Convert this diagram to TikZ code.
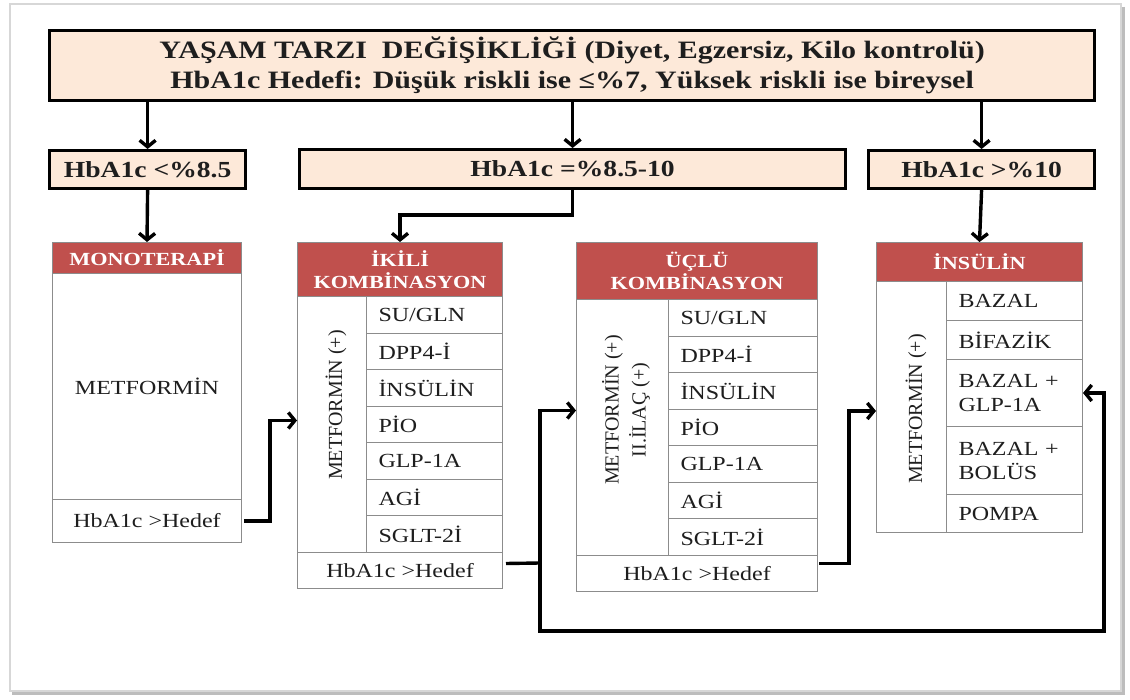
\documentclass[tikz,border=0pt]{standalone}
\usepackage{fontspec}
\setmainfont{Liberation Serif}[FakeStretch=1.2]
\newfontfamily\rotfont{Liberation Serif}
\usetikzlibrary{arrows.meta,calc}
\definecolor{peach}{HTML}{FDE9D9}
\definecolor{hdrred}{HTML}{C0504D}
\definecolor{cellline}{HTML}{8C8C8C}
\definecolor{txt}{HTML}{1E1E1E}
\definecolor{framegray}{HTML}{BDBDBD}
\begin{document}
\begin{tikzpicture}[x=1pt,y=-1pt,
  peachbox/.style={draw=black, line width=3.2pt, fill=peach, inner sep=0pt, anchor=north west, align=center, text=txt, font=\bfseries\fontsize{23}{27}\selectfont},
  header/.style={draw=cellline, line width=1pt, fill=hdrred, text=white, inner sep=0pt, anchor=north west, align=center, font=\bfseries\fontsize{18.5}{22}\selectfont},
  cell/.style={draw=cellline, line width=1pt, fill=white, inner sep=0pt, anchor=north west, align=center, text=txt, font=\fontsize{20}{24}\selectfont},
  rowcell/.style={cell, inner xsep=12pt, align=left},
  verttext/.style={rotate=90, align=center, text=txt, inner sep=0pt, font=\rotfont\fontsize{20}{27}\selectfont},
  arr/.style={line width=3.4pt, -{Straight Barb[length=6.5pt,width=16pt]}},
  link/.style={line width=3.4pt}
]
\useasboundingbox (0,0) rectangle (1130,700);
\fill[white] (0,0) rectangle (1130,700);
% page frame
\draw[framegray!60, line width=2pt] (10,4) rectangle (1121,691);
\draw[framegray, line width=3pt] (1123,7) -- (1123,693) -- (12,693);

% title
\node[peachbox, minimum width=1045pt, minimum height=70pt, font=\bfseries\fontsize{25}{30}\selectfont] (title) at (48,29)
  {YAŞAM TARZI\ \ DEĞİŞİKLİĞİ (Diyet, Egzersiz, Kilo kontrolü)\\HbA1c Hedefi: Düşük riskli ise ≤\%7, Yüksek riskli ise bireysel};

% HbA1c level boxes
\node[peachbox, minimum width=196pt, minimum height=38pt] (lt85) at (48,149) {HbA1c <\%8.5};
\node[peachbox, minimum width=546pt, minimum height=39pt] (mid) at (298,148) {HbA1c =\%8.5-10};
\node[peachbox, minimum width=226pt, minimum height=38pt] (gt10) at (867,149) {HbA1c >\%10};

% Monoterapi
\node[header, minimum width=189pt, minimum height=31pt] (monohead) at (52,242) {MONOTERAPİ};
\node[cell, minimum width=189pt, minimum height=226pt] (monobody) at (52,273) {METFORMİN};
\node[cell, minimum width=189pt, minimum height=43pt] (monoh) at (52,499) {HbA1c >Hedef};

% Ikili kombinasyon
\node[header, minimum width=205pt, minimum height=54pt] (ikhead) at (297,242) {İKİLİ\\KOMBİNASYON};
\node[cell, minimum width=69pt, minimum height=256pt] (ikvert) at (297,296) {};
\node[verttext] (ikvt) at (336,405) {METFORMİN (+)};
\foreach \t [count=\i from 0] in {SU/GLN,DPP4-İ,İNSÜLİN,PİO,GLP-1A,AGİ,SGLT-2İ}
  \node[rowcell, minimum width=136pt, text width=112pt, minimum height=36.57pt] (ik\i) at (366,296+36.57*\i) {\t};
\node[cell, minimum width=205pt, minimum height=36pt] (ikh) at (297,552) {HbA1c >Hedef};

% Uclu kombinasyon
\node[header, minimum width=241pt, minimum height=57pt] (uchead) at (576,242) {ÜÇLÜ\\KOMBİNASYON};
\node[cell, minimum width=92pt, minimum height=256pt] (ucvert) at (576,299) {};
\node[verttext] (ucvt) at (626,410) {METFORMİN (+)\\II.İLAÇ (+)};
\foreach \t [count=\i from 0] in {SU/GLN,DPP4-İ,İNSÜLİN,PİO,GLP-1A,AGİ,SGLT-2İ}
  \node[rowcell, minimum width=149pt, text width=125pt, minimum height=36.57pt] (uc\i) at (668,299+36.57*\i) {\t};
\node[cell, minimum width=241pt, minimum height=36pt] (uch) at (576,555) {HbA1c >Hedef};

% Insulin
\node[header, minimum width=206pt, minimum height=39pt] (inshead) at (876,242) {İNSÜLİN};
\node[cell, minimum width=70pt, minimum height=251pt] (insvert) at (876,281) {};
\node[verttext] (insvt) at (916,409) {METFORMİN (+)};
\node[rowcell, minimum width=136pt, text width=112pt, minimum height=39pt] (ins1) at (946,281) {BAZAL};
\node[rowcell, minimum width=136pt, text width=112pt, minimum height=39pt] (ins2) at (946,320) {BİFAZİK};
\node[rowcell, minimum width=136pt, text width=112pt, minimum height=67pt] (ins3) at (946,359) {BAZAL +\\GLP-1A};
\node[rowcell, minimum width=136pt, text width=112pt, minimum height=68pt] (ins4) at (946,426) {BAZAL +\\BOLÜS};
\node[rowcell, minimum width=136pt, text width=112pt, minimum height=38pt] (ins5) at (946,494) {POMPA};

% connectors from the title
\draw[arr] (lt85.north |- title.south) -- (lt85.north);
\draw[arr] (mid.north |- title.south) -- (mid.north);
\draw[arr] (gt10.north |- title.south) -- (gt10.north);

% level boxes to therapies
\draw[arr] (lt85.south) -- (monohead.north);
\draw[arr] (mid.south) -- ++(0,25) -| (ikhead.north);
\draw[arr] (gt10.south) -- (inshead.north);

% escalation connectors
\draw[arr] ([xshift=2pt]monoh.east) -- ++(26,0) |- ([yshift=4pt]ikvert.west);
\coordinate (j1) at (540,563);
\coordinate (loopc) at (1104,631);
\draw[link] ([xshift=3pt,yshift=7pt]ikh.east) -- (j1);
\draw[arr] (j1) |- ([yshift=17pt]ucvert.west);
\draw[arr] (j1) |- (loopc) |- (ins3.east);
\draw[arr] ([xshift=1pt,yshift=10pt]uch.east) -- ++(30,0) |- ([yshift=-4pt]insvert.west);
\end{tikzpicture}
\end{document}
